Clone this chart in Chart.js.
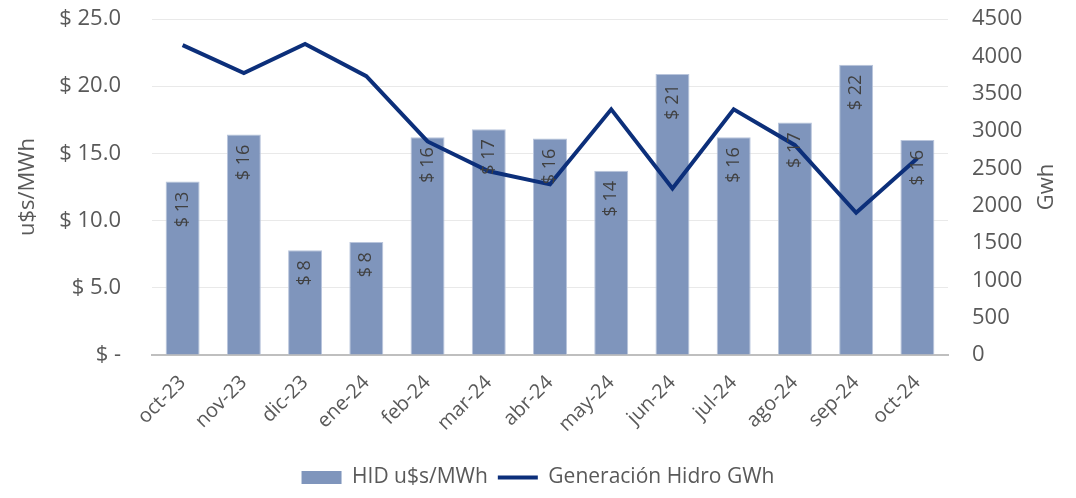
<!DOCTYPE html>
<html>
<head>
<meta charset="utf-8">
<script src="https://cdn.jsdelivr.net/npm/chart.js@4"></script>
<style>
  html, body { margin: 0; padding: 0; background: #fff; }
  #wrap { width: 1076px; height: 498px; }
</style>
</head>
<body>
<div id="wrap"><canvas id="hidroChart"></canvas></div>
<script>
// data
const months = ['oct-23', 'nov-23', 'dic-23', 'ene-24', 'feb-24', 'mar-24', 'abr-24',
                'may-24', 'jun-24', 'jul-24', 'ago-24', 'sep-24', 'oct-24']
const hidPrice = [12.9, 16.4, 7.8, 8.4, 16.2, 16.8, 16.1, 13.7, 20.9, 16.2, 17.3, 21.6, 16.0]
const hidroGen = [4150, 3775, 4165, 3735, 2860, 2460, 2285, 3290, 2230, 3290, 2810, 1905, 2635]
const priceTicks = [0, 5, 10, 15, 20, 25]
const genTicks = [0, 500, 1000, 1500, 2000, 2500, 3000, 3500, 4000, 4500]

const FONT = "'Open Sans', sans-serif"
const GREY = '#595959'

//rotated value labels inside the bars + the two axis titles
const barLabels = {
    id: 'barLabels',
    afterDatasetsDraw(chart) {
        const ctx = chart.ctx
        const meta = chart.getDatasetMeta(0)
        ctx.save()
        ctx.font = `18px ${FONT}`
        ctx.fillStyle = '#404040'
        ctx.textAlign = 'right'
        ctx.textBaseline = 'middle'
        meta.data.forEach((bar, i) => {
            ctx.save()
            ctx.translate(bar.x, bar.y + 10)
            ctx.rotate(-Math.PI / 2)
            ctx.fillText('$ ' + Math.round(hidPrice[i]), 0, 0)
            ctx.restore()
        })
        ctx.restore()
    },
    afterDraw(chart) {
        const ctx = chart.ctx
        const area = chart.chartArea
        const midY = (area.top + area.bottom) / 2
        ctx.save()
        ctx.font = `22px ${FONT}`
        ctx.fillStyle = GREY
        ctx.textAlign = 'center'
        ctx.textBaseline = 'middle'
        ;[[28, 'u$s/MWh'], [1047, 'Gwh']].forEach(([x, txt]) => {
            ctx.save()
            ctx.translate(x, midY)
            ctx.rotate(-Math.PI / 2)
            ctx.fillText(txt, 0, 0)
            ctx.restore()
        })
        ctx.restore()
    }
}

//fixed axis box, no extra top/bottom padding from the tick padding
function fixY(width) {
    return (s) => {
        s.width = width
        s.paddingTop = 0
        s.paddingBottom = 0
    }
}

new Chart('hidroChart', {
    type: 'bar',
    data: {
        labels: months,
        datasets: [{
            type: 'bar',
            label: 'HID u$s/MWh',
            data: hidPrice,
            yAxisID: 'y',
            backgroundColor: '#7f95bc',
            borderColor: '#b9c5dc',
            borderWidth: 1,
            barPercentage: 0.555,
            categoryPercentage: 1,
            pointStyle: 'rect',
            order: 1
        }, {
            type: 'line',
            label: 'Generación Hidro GWh',
            data: hidroGen,
            yAxisID: 'y1',
            borderColor: '#0c2f7a',
            backgroundColor: '#0c2f7a',
            borderWidth: 4,
            pointRadius: 0,
            tension: 0,
            pointStyle: 'line',
            order: 0
        }]
    },
    options: {
        responsive: true,
        maintainAspectRatio: false,
        animation: false,
        layout: { padding: { top: 19, left: 0, right: 0, bottom: 0 } },
        scales: {
            x: {
                grid: { display: false },
                border: { color: '#bfbfbf', width: 2 },
                ticks: {
                    color: GREY, font: { family: FONT, size: 20 },
                    maxRotation: 45, minRotation: 45, padding: 8
                },
                afterFit: (s) => { s.height = 102 }
            },
            y: {
                position: 'left',
                min: 0, max: 25,
                afterBuildTicks: (s) => { s.ticks = priceTicks.map(v => ({ value: v })) },
                grid: { color: '#e9e9e9', lineWidth: 1, drawTicks: false },
                border: { display: false },
                ticks: {
                    color: GREY, font: { family: FONT, size: 22 }, padding: 31,
                    callback: (v) => v === 0 ? '$ -' : '$ ' + v.toFixed(1)
                },
                afterFit: fixY(152)
            },
            y1: {
                position: 'right',
                min: 0, max: 4500,
                afterBuildTicks: (s) => { s.ticks = genTicks.map(v => ({ value: v })) },
                grid: { display: false, drawTicks: false },
                border: { display: false },
                ticks: {
                    color: GREY, font: { family: FONT, size: 22 }, padding: 24,
                    callback: (v) => String(v)
                },
                afterFit: fixY(128)
            }
        },
        plugins: {
            legend: {
                position: 'bottom',
                labels: {
                    color: GREY,
                    font: { family: FONT, size: 21 },
                    usePointStyle: true,
                    pointStyleWidth: 40,
                    boxHeight: 13,
                    padding: 10,
                    sort: (a, b) => a.datasetIndex - b.datasetIndex,
                    generateLabels: (chart) => {
                        const items = Chart.defaults.plugins.legend.labels.generateLabels(chart)
                        items.forEach(it => {
                            if (it.datasetIndex === 0) { it.lineWidth = 0; it.strokeStyle = 'rgba(0,0,0,0)' }
                        })
                        return items
                    }
                }
            },
            tooltip: { enabled: false }
        }
    },
    plugins: [barLabels]
})
</script>
</body>
</html>
